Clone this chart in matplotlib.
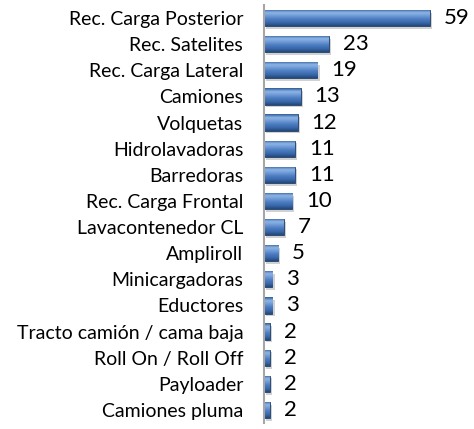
import numpy as np
import matplotlib
matplotlib.use("Agg")
import matplotlib.pyplot as plt
import matplotlib.patheffects as pe
from matplotlib.colors import LinearSegmentedColormap

# datos del grafico (de arriba hacia abajo)
categorias = ["Rec. Carga Posterior", "Rec. Satelites", "Rec. Carga Lateral",
              "Camiones", "Volquetas", "Hidrolavadoras", "Barredoras",
              "Rec. Carga Frontal", "Lavacontenedor CL", "Ampliroll",
              "Minicargadoras", "Eductores", "Tracto camión / cama baja",
              "Roll On / Roll Off", "Payloader", "Camiones pluma"]
valores = [59, 23, 19, 13, 12, 11, 11, 10, 7, 5, 3, 3, 2, 2, 2, 2]

plt.rcParams['font.family'] = ['Lato', 'DejaVu Sans']

fig = plt.figure(figsize=(4.74, 4.29), dpi=100)
ax = fig.add_axes([264 / 474, 6 / 429, 210 / 474, 418 / 429])

y = np.arange(len(categorias))
alto = 0.62

# degradado vertical para imitar las barras 3D de Excel
cmap = LinearSegmentedColormap.from_list(
    "azul", ["#2c5a96", "#8fb6e8", "#6f9ad6", "#4a7cc0", "#3a69ab", "#23477a"])
grad = np.linspace(0, 1, 64).reshape(-1, 1)

# sombra suave debajo de cada barra
sombra = [pe.SimplePatchShadow(offset=(1.5, -2), shadow_rgbFace="#9a9a9a", alpha=0.45),
          pe.Normal()]
barras = ax.barh(y, valores, height=alto, color="#4f81bd",
                 edgecolor="#1f3d66", linewidth=0.6, zorder=2)
for b in barras:
    b.set_path_effects(sombra)
    x0, y0 = b.get_x(), b.get_y()
    w, h = b.get_width(), b.get_height()
    im = ax.imshow(grad, cmap=cmap, aspect="auto", zorder=2.5,
                   extent=(x0, x0 + w, y0 + h, y0), interpolation="bicubic")
    im.set_clip_path(b)

for yi, v in zip(y, valores):
    ax.annotate(str(v), (v, yi), xytext=(10, 0), textcoords="offset points",
                va="center", ha="left", fontsize=16, color="black")

ax.set_xlim(0, 59 * 210 / 166)
ax.set_ylim(len(categorias) - 0.5, -0.5)
ax.set_yticks(y)
ax.set_yticklabels(categorias, fontsize=14)
ax.tick_params(axis="y", length=0, pad=15)
ax.set_xticks([])
for s in ["top", "right", "bottom"]:
    ax.spines[s].set_visible(False)
ax.spines["left"].set_color("#a6a6a6")
ax.spines["left"].set_linewidth(1.5)
ax.spines["left"].set_zorder(3)

fig.savefig("out.png", dpi=100)
